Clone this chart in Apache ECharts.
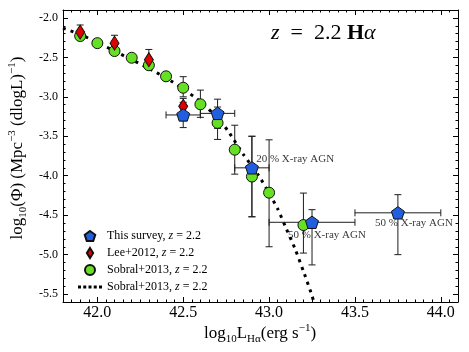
<!DOCTYPE html>
<html>
<head>
<meta charset="utf-8">
<script src="https://cdn.jsdelivr.net/npm/echarts@6/dist/echarts.min.js"></script>
<style>
  html, body { margin: 0; padding: 0; background: #fff; }
  #chart { width: 469px; height: 352px; }
</style>
</head>
<body>
<div id="chart"></div>
<script>
/* Halpha luminosity function at z = 2.2 */

// this survey (blue pentagons)
const surveyL = [42.5, 42.7, 42.9, 43.25, 43.75];
const surveyLogPhi = [-3.23, -3.21, -3.90, -4.59, -4.47];
const surveyPhiUp = [-3.07, -3.03, -3.50, -4.43, -4.24];
const surveyPhiDown = [-3.39, -3.40, -4.52, -5.13, -5.00];
const surveyLMin = [42.4, 42.6, 42.8, 43.0, 43.5];
const surveyLMax = [42.6, 42.8, 43.0, 43.5, 44.0];

// Lee+2012 (red diamonds)
const leeL = [41.9, 42.1, 42.3, 42.5];
const leeLogPhi = [-2.18, -2.32, -2.53, -3.12];
const leePhiUp = [-2.09, -2.22, -2.40, -3.02];
const leePhiDown = [-2.27, -2.45, -2.64, -3.22];

// Sobral+2013 (green circles)
const sobralL = [41.9, 42.0, 42.1, 42.2, 42.3, 42.4, 42.5, 42.6, 42.7, 42.8, 42.9, 43.0, 43.2];
const sobralLogPhi = [-2.23, -2.32, -2.42, -2.505, -2.60, -2.74, -2.885, -3.095, -3.33, -3.67, -4.01, -4.215, -4.625];
const sobralPhiUp = [null, null, null, null, null, null, -2.745, -2.915, -3.13, -3.36, -3.50, -3.545, -4.22];
const sobralPhiDown = [null, null, null, null, null, null, -3.00, -3.26, -3.54, -3.98, -4.52, -4.90, -4.98];

// Sobral+2013 fit (dotted line)
const fitL = [41.80, 41.90, 42.00, 42.10, 42.20, 42.30, 42.40, 42.50, 42.60, 42.70, 42.76, 42.85, 42.94, 43.00, 43.05, 43.10, 43.15, 43.20, 43.25, 43.27];
const fitLogPhi = [-2.13, -2.21, -2.31, -2.42, -2.53, -2.64, -2.76, -2.90, -3.06, -3.27, -3.43, -3.73, -4.00, -4.22, -4.42, -4.67, -4.92, -5.21, -5.52, -5.68];

// AGN notes
const noteText = ['20 % X-ray AGN', '50 % X-ray AGN', '50 % X-ray AGN'];
const noteL = [42.925, 43.11, 43.617];
const noteLogPhi = [-3.79, -4.75, -4.60];

const xTickLabels = ['42.0', '42.5', '43.0', '43.5', '44.0'];
const yTickLabels = ['-2.0', '-2.5', '-3.0', '-3.5', '-4.0', '-4.5', '-5.0', '-5.5'];

const SERIF = 'Liberation Serif';
const pentagon = 'path://M50,0 L97.6,34.5 L79.4,90.5 L20.6,90.5 L2.4,34.5 Z';
const diamond = 'path://M5,0 L10,8 L5,16 L0,8 Z';
// legend swatch for the dotted fit
const dots = 'path://M0,0h3v3h-3zM5.25,0h3v3h-3zM10.5,0h3v3h-3zM15.75,0h3v3h-3zM21,0h3v3h-3z';

function val(a, i) {
  return (a && a[i] != null) ? a[i] : NaN;
}

function errRows(L, phi, up, down, lmin, lmax) {
  return L.map((l, i) => [l, phi[i], val(up, i), val(down, i), val(lmin, i), val(lmax, i)]);
}

function renderErrorBars(params, api) {
  const L = api.value(0), phi = api.value(1);
  const up = api.value(2), down = api.value(3);
  const lmin = api.value(4), lmax = api.value(5);
  const style = { stroke: '#1e1e1e', lineWidth: 1 };
  const cap = 3.5;
  const kids = [];
  const seg = (a, b) => kids.push({
    type: 'line',
    shape: { x1: a[0], y1: a[1], x2: b[0], y2: b[1] },
    style: style
  });
  if (!isNaN(up) && !isNaN(down)) {
    const t = api.coord([L, up]);
    const b = api.coord([L, down]);
    seg(t, b);
    seg([t[0] - cap, t[1]], [t[0] + cap, t[1]]);
    seg([b[0] - cap, b[1]], [b[0] + cap, b[1]]);
  }
  if (!isNaN(lmin) && !isNaN(lmax)) {
    const l = api.coord([lmin, phi]);
    const r = api.coord([lmax, phi]);
    seg(l, r);
    seg([l[0], l[1] - cap], [l[0], l[1] + cap]);
    seg([r[0], r[1] - cap], [r[0], r[1] + cap]);
  }
  return { type: 'group', children: kids };
}

function errSeries(rows, z) {
  return {
    type: 'custom',
    renderItem: renderErrorBars,
    data: rows,
    encode: { x: 0, y: 1 },
    silent: true,
    z: z
  };
}

const tickFmt = list => v => {
  const s = v.toFixed(1);
  return list.includes(s) ? s : '';
};

function axisBase(min, max, minorSplit) {
  return {
    type: 'value',
    min: min,
    max: max,
    axisLine: { show: true, onZero: false, lineStyle: { color: '#000', width: 1 } },
    axisTick: { show: true, inside: true, length: 5, lineStyle: { color: '#000' } },
    minorTick: { show: true, splitNumber: minorSplit, length: 2.5, lineStyle: { color: '#000' } },
    splitLine: { show: false },
    minorSplitLine: { show: false }
  };
}

const chart = echarts.init(document.getElementById('chart'));

const legendText = {
  'This survey': '{n|This survey, }{i|z}{n| = 2.2}',
  'Lee+2012': '{n|Lee+2012, }{i|z}{n| = 2.2}',
  'Sobral+2013': '{n|Sobral+2013, }{i|z}{n| = 2.2}',
  'Sobral+2013 fit': '{n|Sobral+2013, }{i|z}{n| = 2.2}'
};

chart.setOption({
  animation: false,
  backgroundColor: '#fff',
  grid: { left: 63, right: 11, top: 10, bottom: 50 },
  xAxis: [
    Object.assign(axisBase(41.8, 44.1, 10), {
      position: 'bottom',
      axisLabel: {
        formatter: tickFmt(xTickLabels),
        fontFamily: SERIF, fontSize: 16, color: '#000', margin: 3
      }
    }),
    Object.assign(axisBase(41.8, 44.1, 10), {
      position: 'top',
      axisLabel: { show: false }
    })
  ],
  yAxis: [
    Object.assign(axisBase(-5.6, -1.9, 5), {
      position: 'left',
      splitNumber: 7,
      axisLabel: {
        formatter: tickFmt(yTickLabels),
        fontFamily: SERIF, fontSize: 12, color: '#000', margin: 5
      }
    }),
    Object.assign(axisBase(-5.6, -1.9, 5), {
      position: 'right',
      splitNumber: 7,
      axisLabel: { show: false }
    })
  ],
  legend: {
    orient: 'vertical',
    left: 73,
    top: 224,
    itemWidth: 24,
    itemHeight: 10,
    itemGap: 3,
    data: [
      { name: 'This survey', icon: pentagon },
      { name: 'Lee+2012', icon: diamond },
      { name: 'Sobral+2013', icon: 'circle' },
      { name: 'Sobral+2013 fit', icon: dots }
    ],
    formatter: name => legendText[name],
    textStyle: {
      fontFamily: SERIF, fontSize: 12, color: '#000', lineHeight: 14,
      rich: {
        n: { fontFamily: SERIF, fontSize: 12, color: '#000' },
        i: { fontFamily: SERIF, fontSize: 12, fontStyle: 'italic', color: '#000' }
      }
    }
  },
  series: [
    errSeries(errRows(sobralL, sobralLogPhi, sobralPhiUp, sobralPhiDown), 1),
    errSeries(errRows(leeL, leeLogPhi, leePhiUp, leePhiDown), 1),
    errSeries(errRows(surveyL, surveyLogPhi, surveyPhiUp, surveyPhiDown, surveyLMin, surveyLMax), 1),
    {
      name: 'Sobral+2013 fit',
      type: 'line',
      data: fitL.map((l, i) => [l, fitLogPhi[i]]),
      symbol: 'none',
      smooth: 0.2,
      clip: true,
      lineStyle: { color: '#000', width: 3, type: [3, 5] },
      itemStyle: { color: '#000' },
      z: 2
    },
    {
      name: 'Sobral+2013',
      type: 'scatter',
      data: sobralL.map((l, i) => [l, sobralLogPhi[i]]),
      symbol: 'circle',
      symbolSize: 11,
      itemStyle: { color: '#66e022', borderColor: '#111', borderWidth: 1, opacity: 1 },
      z: 3
    },
    {
      name: 'Lee+2012',
      type: 'scatter',
      data: leeL.map((l, i) => [l, leeLogPhi[i]]),
      symbol: diamond,
      symbolSize: [9, 14],
      itemStyle: { color: '#e00000', borderColor: '#111', borderWidth: 1, opacity: 1 },
      z: 4
    },
    {
      name: 'This survey',
      type: 'scatter',
      data: surveyL.map((l, i) => [l, surveyLogPhi[i]]),
      symbol: pentagon,
      symbolSize: 13,
      symbolKeepAspect: true,
      itemStyle: { color: '#1f5fe0', borderColor: '#111', borderWidth: 1, opacity: 1 },
      z: 5
    },
    {
      type: 'scatter',
      data: noteL.map((l, i) => ({ value: [l, noteLogPhi[i]], name: noteText[i] })),
      symbolSize: 0,
      silent: true,
      label: {
        show: true,
        position: 'right',
        distance: 0,
        formatter: p => p.name,
        fontFamily: SERIF, fontSize: 11, color: '#000'
      },
      z: 6
    }
  ],
  graphic: [
    {
      type: 'text',
      x: 271, y: 33,
      style: {
        text: '{i|z}{n|  =  2.2 }{b|H}{i|α}',
        align: 'left', verticalAlign: 'middle',
        rich: {
          i: { fontFamily: SERIF, fontSize: 22, fontStyle: 'italic', fill: '#000' },
          n: { fontFamily: SERIF, fontSize: 22, fill: '#000' },
          b: { fontFamily: SERIF, fontSize: 22, fontWeight: 'bold', fill: '#000' }
        }
      }
    },
    {
      type: 'text',
      x: 260, y: 334,
      style: {
        text: '{n|log}{s|10}{n|L}{s|Hα}{n|(erg s}{p|−1}{n|)}',
        align: 'center', verticalAlign: 'middle',
        rich: {
          n: { fontFamily: SERIF, fontSize: 17, lineHeight: 22, fill: '#000' },
          s: { fontFamily: SERIF, fontSize: 11, lineHeight: 14, verticalAlign: 'bottom', fill: '#000' },
          p: { fontFamily: SERIF, fontSize: 11, lineHeight: 10, verticalAlign: 'top', fill: '#000' }
        }
      }
    },
    {
      type: 'text',
      x: 18, y: 148,
      rotation: Math.PI / 2,
      style: {
        text: '{n|log}{s|10}{n|(Φ) (Mpc}{p|−3}{n| (dlogL)}{p|−1}{n|)}',
        align: 'center', verticalAlign: 'middle',
        rich: {
          n: { fontFamily: SERIF, fontSize: 17, lineHeight: 22, fill: '#000' },
          s: { fontFamily: SERIF, fontSize: 11, lineHeight: 14, verticalAlign: 'bottom', fill: '#000' },
          p: { fontFamily: SERIF, fontSize: 11, lineHeight: 10, verticalAlign: 'top', fill: '#000' }
        }
      }
    }
  ]
});

window.addEventListener('resize', () => chart.resize());
</script>
</body>
</html>
